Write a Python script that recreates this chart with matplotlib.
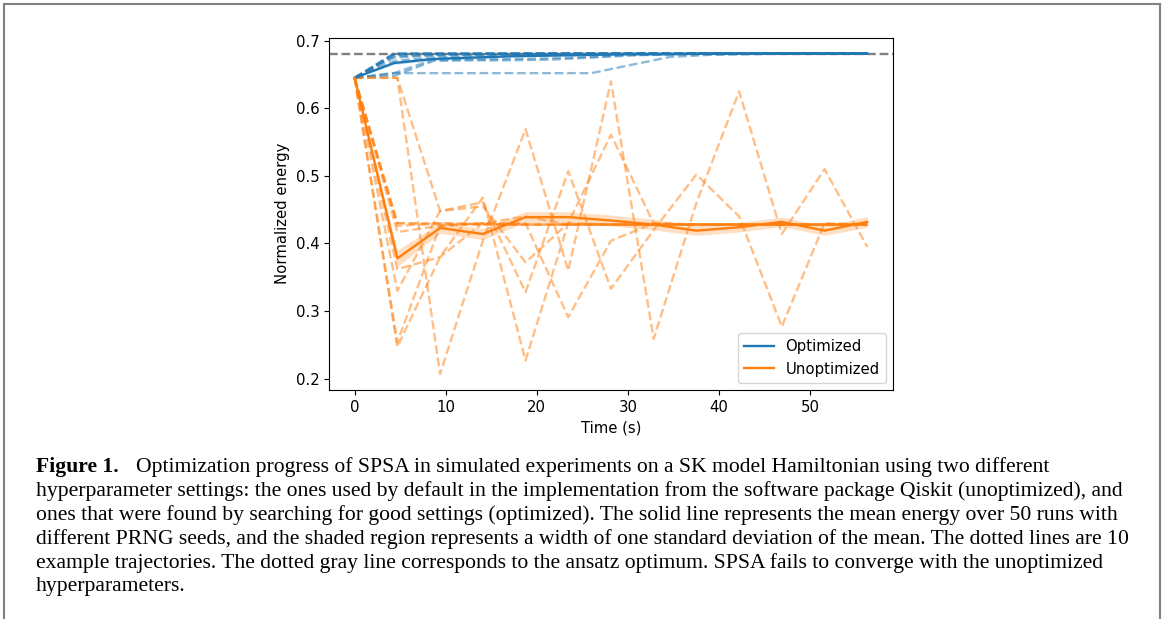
import numpy as np
import matplotlib
matplotlib.use("Agg")
import matplotlib.pyplot as plt
from matplotlib.lines import Line2D

# ---------------- data ----------------
opt_step = 4.33
unopt_step = 4.69
opt_time = [round(opt_step * i, 2) for i in range(14)]
unopt_time = [round(unopt_step * i, 2) for i in range(13)]

optimum = 0.681

opt_mean = [0.645, 0.667, 0.673, 0.675, 0.677, 0.678, 0.679, 0.680, 0.680, 0.681, 0.681, 0.681, 0.681, 0.681]
opt_std = [0.000, 0.002, 0.002, 0.002, 0.001, 0.001, 0.001, 0.001, 0.001, 0.000, 0.000, 0.000, 0.000, 0.000]

opt_runs = [
    [0.645, 0.681, 0.681, 0.681, 0.681, 0.681, 0.681, 0.681, 0.681, 0.681, 0.681, 0.681, 0.681, 0.681],
    [0.645, 0.679, 0.680, 0.680, 0.680, 0.681, 0.681, 0.681, 0.681, 0.681, 0.681, 0.681, 0.681, 0.681],
    [0.645, 0.675, 0.678, 0.679, 0.680, 0.680, 0.681, 0.681, 0.681, 0.681, 0.681, 0.681, 0.681, 0.681],
    [0.645, 0.670, 0.675, 0.677, 0.679, 0.680, 0.680, 0.681, 0.681, 0.681, 0.681, 0.681, 0.681, 0.681],
    [0.645, 0.652, 0.672, 0.672, 0.673, 0.674, 0.676, 0.679, 0.680, 0.681, 0.681, 0.681, 0.681, 0.681],
    [0.645, 0.652, 0.652, 0.652, 0.652, 0.652, 0.652, 0.664, 0.676, 0.679, 0.680, 0.681, 0.681, 0.681],
    [0.645, 0.648, 0.670, 0.671, 0.671, 0.672, 0.675, 0.678, 0.680, 0.680, 0.681, 0.681, 0.681, 0.681],
    [0.645, 0.680, 0.681, 0.681, 0.681, 0.681, 0.681, 0.681, 0.681, 0.681, 0.681, 0.681, 0.681, 0.681],
    [0.645, 0.681, 0.681, 0.681, 0.681, 0.681, 0.681, 0.681, 0.681, 0.681, 0.681, 0.681, 0.681, 0.681],
    [0.645, 0.677, 0.679, 0.680, 0.681, 0.681, 0.681, 0.681, 0.681, 0.681, 0.681, 0.681, 0.681, 0.681],
]

unopt_mean = [0.645, 0.378, 0.423, 0.414, 0.439, 0.439, 0.434, 0.428, 0.419, 0.424, 0.432, 0.419, 0.432]
unopt_std = [0.000, 0.012, 0.008, 0.008, 0.008, 0.008, 0.008, 0.008, 0.007, 0.007, 0.007, 0.007, 0.008]

unopt_runs = [
    [0.645, 0.645, 0.207, 0.404, 0.569, 0.360, 0.640, 0.259, 0.460, 0.625, 0.414, 0.510, 0.395],
    [0.645, 0.645, 0.448, 0.461, 0.328, 0.507, 0.333, 0.420, 0.502, 0.440, 0.277, 0.430, 0.428],
    [0.645, 0.247, 0.380, 0.468, 0.227, 0.430, 0.561, 0.430, 0.428, 0.428, 0.428, 0.428, 0.428],
    [0.645, 0.254, 0.426, 0.430, 0.430, 0.291, 0.404, 0.430, 0.428, 0.428, 0.428, 0.428, 0.428],
    [0.645, 0.330, 0.448, 0.455, 0.372, 0.430, 0.428, 0.428, 0.428, 0.428, 0.428, 0.428, 0.428],
    [0.645, 0.362, 0.380, 0.430, 0.440, 0.428, 0.428, 0.428, 0.428, 0.428, 0.428, 0.428, 0.428],
    [0.645, 0.426, 0.430, 0.429, 0.428, 0.428, 0.428, 0.428, 0.428, 0.428, 0.428, 0.428, 0.428],
    [0.645, 0.430, 0.428, 0.428, 0.428, 0.428, 0.428, 0.428, 0.428, 0.428, 0.428, 0.428, 0.428],
    [0.645, 0.417, 0.426, 0.430, 0.428, 0.428, 0.428, 0.428, 0.428, 0.428, 0.428, 0.428, 0.428],
    [0.645, 0.430, 0.430, 0.428, 0.428, 0.428, 0.428, 0.428, 0.428, 0.428, 0.428, 0.428, 0.428],
]

legend_labels = ["Optimized", "Unoptimized"]
x_label = "Time (s)"
y_label = "Normalized energy"

caption_bold = "Figure 1."
caption_lines = [
    "Optimization progress of SPSA in simulated experiments on a SK model Hamiltonian using two different",
    "hyperparameter settings: the ones used by default in the implementation from the software package Qiskit (unoptimized), and",
    "ones that were found by searching for good settings (optimized). The solid line represents the mean energy over 50 runs with",
    "different PRNG seeds, and the shaded region represents a width of one standard deviation of the mean. The dotted lines are 10",
    "example trajectories. The dotted gray line corresponds to the ansatz optimum. SPSA fails to converge with the unoptimized",
    "hyperparameters.",
]

# ---------------- figure ----------------
W, H = 1165, 619
FS = 10.7
LW = 1.7
fig = plt.figure(figsize=(W / 100, H / 100), dpi=100)
ax = fig.add_axes([329 / W, 1 - 390 / H, (893 - 329) / W, (390 - 37.5) / H])

blue = "#1f77b4"
orange = "#ff7f0e"

ax.axhline(optimum, color="gray", linestyle="--", linewidth=LW)

for run in opt_runs:
    ax.plot(opt_time, run, color=blue, linestyle="--", alpha=0.5, linewidth=LW)
for run in unopt_runs:
    ax.plot(unopt_time, run, color=orange, linestyle="--", alpha=0.5, linewidth=LW)

om = np.array(opt_mean); osd = np.array(opt_std)
um = np.array(unopt_mean); usd = np.array(unopt_std)
ax.fill_between(opt_time, om - osd, om + osd, color=blue, alpha=0.25, linewidth=0)
ax.fill_between(unopt_time, um - usd, um + usd, color=orange, alpha=0.25, linewidth=0)
ax.plot(opt_time, opt_mean, color=blue, linewidth=LW)
ax.plot(unopt_time, unopt_mean, color=orange, linewidth=LW)

ax.set_xlabel(x_label, fontsize=FS)
ax.set_ylabel(y_label, fontsize=FS)
ax.tick_params(labelsize=FS)
ax.set_xticks([0, 10, 20, 30, 40, 50])
ax.set_yticks([0.2, 0.3, 0.4, 0.5, 0.6, 0.7])

handles = [Line2D([0], [0], color=blue, lw=LW), Line2D([0], [0], color=orange, lw=LW)]
ax.legend(handles, legend_labels, loc="lower right", fontsize=FS)

# page frame
frame_kw = dict(color="#808080", linewidth=1.5, transform=fig.transFigure, clip_on=False)
fig.add_artist(Line2D([3.5 / W, 3.5 / W], [0, 1 - 4 / H], **frame_kw))
fig.add_artist(Line2D([1160 / W, 1160 / W], [0, 1 - 4 / H], **frame_kw))
fig.add_artist(Line2D([3.5 / W, 1160 / W], [1 - 4 / H, 1 - 4 / H], **frame_kw))

# caption
serif = ["Liberation Serif", "DejaVu Serif"]
fig.canvas.draw()
renderer = fig.canvas.get_renderer()
probe = fig.text(0, 0, caption_lines[1], fontsize=14, family=serif)
wpx = probe.get_window_extent(renderer).width
probe.remove()
fs = 14 * (1131 - 36) / wpx

ys = [467, 491, 515, 539, 563, 587]
fig.text(36 / W, 1 - ys[0] / H, caption_bold, fontsize=fs, family=serif,
         fontweight="bold", va="center", ha="left")
fig.text(136 / W, 1 - ys[0] / H, caption_lines[0], fontsize=fs, family=serif,
         va="center", ha="left")
for y, line in zip(ys[1:], caption_lines[1:]):
    fig.text(36 / W, 1 - y / H, line, fontsize=fs, family=serif, va="center", ha="left")

fig.savefig("out.png", dpi=100)
